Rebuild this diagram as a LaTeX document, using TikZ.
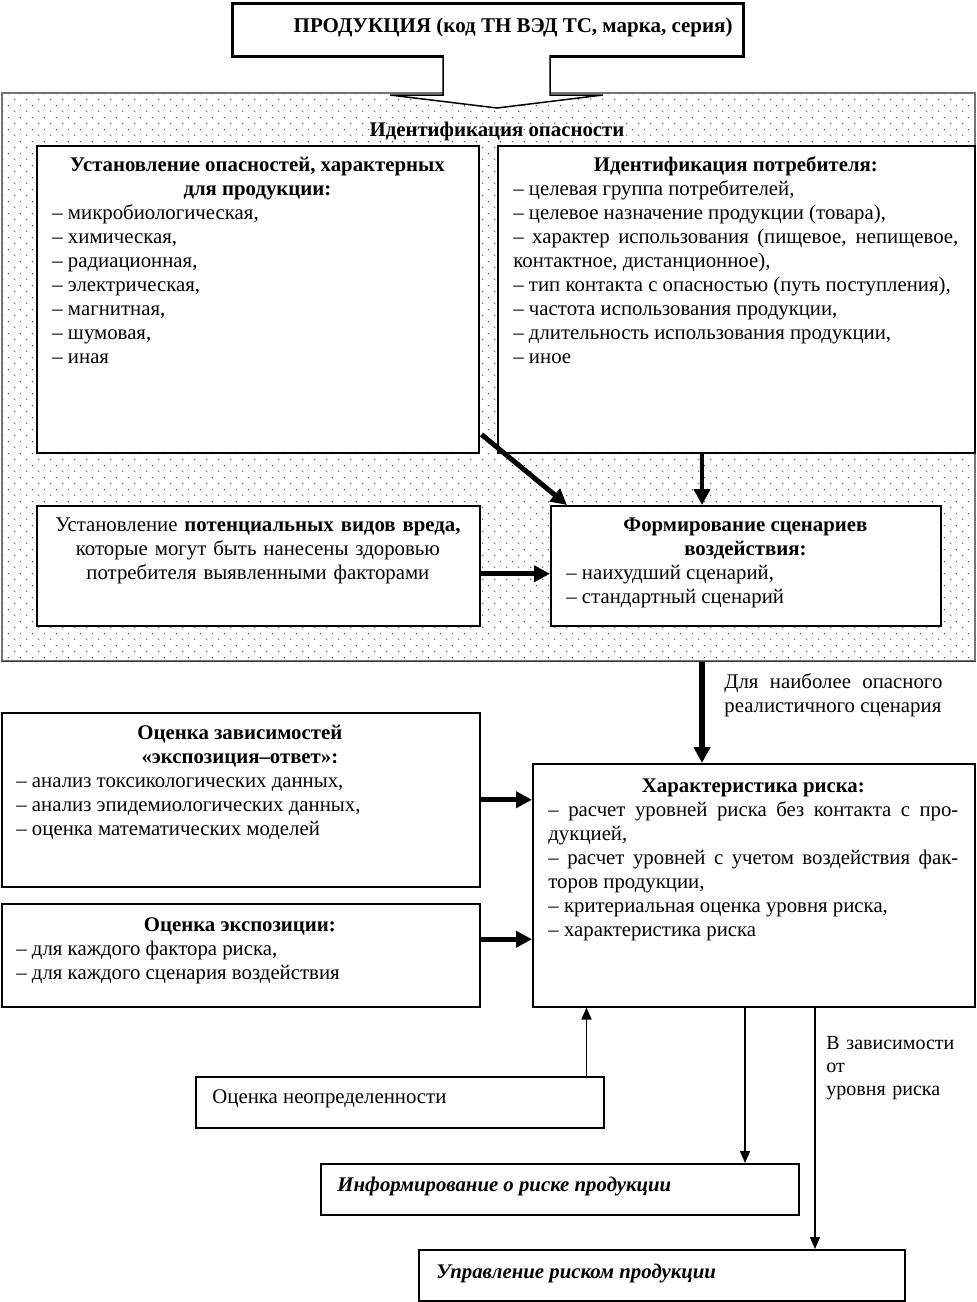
\documentclass[tikz,border=0pt]{standalone}
\usepackage{fontspec}
\setmainfont{Liberation Serif}
\usetikzlibrary{arrows.meta,calc,patterns.meta}
\tikzdeclarepattern{name=dotgrid, type=uncolored,
  bounding box={(0pt,0pt) and (6pt,6pt)}, tile size={(6pt,6pt)},
  code={\pgfpathcircle{\pgfpoint{1.5pt}{1.5pt}}{0.4pt}
        \pgfpathcircle{\pgfpoint{4.5pt}{4.5pt}}{0.4pt}
        \pgfusepath{fill}}}
\hyphenpenalty=10000
\exhyphenpenalty=10000
\tolerance=9999
\begin{document}
\begin{tikzpicture}[x=0.5pt,y=-0.5pt,
  txt/.style={inner sep=0pt, anchor=base west, font=\fontsize{10.4}{12}\selectfont},
  btxt/.style={txt, font=\fontsize{10.4}{12}\selectfont\bfseries},
  box/.style={draw, line width=0.75pt, fill=white, inner sep=0pt, anchor=north west},
  thickarrow/.style={line width=2.5pt, -{Triangle[length=8pt,width=8pt]}},
  thinarrow/.style={line width=0.75pt, -{Triangle[length=6pt,width=5pt]}}]
\fill[white] (0,0) rectangle (976,1302);
\useasboundingbox (0,0) rectangle (976,1302);

% dotted zone
\node[draw=black!55, line width=0.75pt, pattern={dotgrid}, pattern color=black!75,
      inner sep=0pt, anchor=north west, minimum width=486.5pt, minimum height=284pt] (zone) at (1,92) {};
\draw[black!80, line width=0.75pt] (zone.south west) -- (zone.south east);

% top box
\node[box, line width=1.5pt, minimum width=255.5pt, minimum height=26.5pt] (T) at (231,2) {};
\node[btxt, anchor=base east, font=\fontsize{10.5}{12}\selectfont\bfseries] (tT) at (733,32) {ПРОДУКЦИЯ (код ТН ВЭД ТС, марка, серия)};

% hollow arrow
\draw[line width=0.75pt, fill=white] (443,55) -- (443,95) -- (390,95) -- (497,108) -- (603,95) -- (550,95) -- (550,55);

\node[btxt, anchor=base] (tZ) at (497,136) {Идентификация опасности};

% boxes
\node[box, minimum width=221pt, minimum height=153.5pt] (A) at (36,145) {};
\node[box, minimum width=238.5pt, minimum height=153.5pt] (B) at (497,145) {};
\node[box, minimum width=221.5pt, minimum height=60pt] (C) at (36,505) {};
\node[box, minimum width=195pt, minimum height=60pt] (D) at (550,505) {};
\node[box, minimum width=239pt, minimum height=87pt] (E) at (1,712) {};
\node[box, minimum width=239pt, minimum height=51.5pt] (F) at (1,903) {};
\node[box, minimum width=221pt, minimum height=121.5pt] (G) at (532,763) {};
\node[box, minimum width=204pt, minimum height=25.5pt] (H) at (195,1076) {};
\node[box, minimum width=239pt, minimum height=25.5pt] (I) at (320,1163) {};
\node[box, minimum width=243pt, minimum height=25.5pt] (J) at (418,1249) {};

% texts
\node[txt, text width=205pt, align=justify] (tA) at (52,171) {{\centering\bfseries Установление опасностей, характерных\\ для продукции:\par}\raggedright
– микробиологическая,\par – химическая,\par – радиационная,\par – электрическая,\par – магнитная,\par – шумовая,\par – иная};

\node[txt, text width=222.5pt, align=justify] (tB) at (513,171) {{\centering\bfseries Идентификация потребителя:\par}
– целевая группа потребителей,\par
– целевое назначение продукции (товара),\par
– характер использования (пищевое, непищевое,\linebreak контактное, дистанционное),\par
– тип контакта с опасностью (путь поступления),\par
– частота использования продукции,\par
– длительность использования продукции,\par
– иное};

\node[txt, text width=221.5pt, align=center] (tC) at (36,531) {Установление \textbf{потенциальных видов вреда,}\\ которые могут быть нанесены здоровью\\ потребителя выявленными факторами};

\node[txt, text width=179pt, align=justify] (tD) at (566,531) {{\centering\bfseries Формирование сценариев\\ воздействия:\par}\raggedright
– наихудший сценарий,\par – стандартный сценарий};

\node[txt, text width=109pt, align=justify] (L1) at (724,688) {Для наиболее опасного\linebreak реалистичного сценария};

\node[txt, text width=223.5pt, align=justify] (tE) at (16,739) {{\centering\bfseries Оценка зависимостей\\ «экспозиция–ответ»:\par}\raggedright
– анализ токсикологических данных,\par – анализ эпидемиологических данных,\par – оценка математических моделей};

\node[txt, text width=223.5pt, align=justify] (tF) at (16,931) {{\centering\bfseries Оценка экспозиции:\par}\raggedright
– для каждого фактора риска,\par – для каждого сценария воздействия};

\node[txt, text width=205pt, align=justify] (tG) at (548,792) {{\centering\bfseries Характеристика риска:\par}
– расчет уровней риска без контакта с про-\linebreak дукцией,\par
– расчет уровней с учетом воздействия фак-\linebreak торов продукции,\par
– критериальная оценка уровня риска,\par
– характеристика риска};

\node[txt] (tH) at (212,1103) {Оценка неопределенности};
\node[txt, font=\fontsize{10.4}{12}\selectfont\bfseries\itshape] (tI) at (337,1191) {Информирование о риске продукции};
\node[txt, font=\fontsize{10.4}{12}\selectfont\bfseries\itshape] (tJ) at (436,1278) {Управление риском продукции};
\node[txt, text width=75pt, align=left, font=\fontsize{10}{11.5}\selectfont] (L2) at (826,1049) {В зависимости\\от\\уровня риска};

% connectors
\draw[thickarrow] ($(A.south east)+(2,-19)$) -- ($(D.north west)+(17,0)$);
\draw[thickarrow, line width=2.2pt] ($(B.south west)+(205,0)$) -- ($(D.north west)+(152,0)$);
\draw[thickarrow] ($(C.east)+(0,8)$) -- ($(D.west)+(0,8)$);
\draw[thickarrow, line width=3pt] ($(zone.south west)+(701,0)$) -- ($(G.north west)+(170,0)$);
\draw[thickarrow] (E.east) -- (E.east -| G.west);
\coordinate (f1) at ($(F.east)+(0,-16)$);
\draw[thickarrow] (f1) -- (f1 -| G.west);
\coordinate (h1) at ($(H.north east)+(-18,0)$);
\draw[thinarrow] (h1) -- (h1 |- G.south);
\coordinate (g1) at ($(G.south west)+(213,0)$);
\draw[thinarrow] (g1) -- (g1 |- I.north);
\coordinate (g2) at ($(G.south west)+(283,0)$);
\draw[thinarrow] (g2) -- (g2 |- J.north);
\end{tikzpicture}
\end{document}
